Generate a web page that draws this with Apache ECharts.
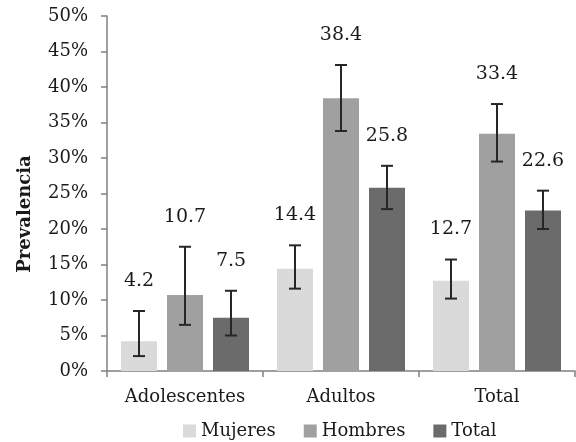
<!DOCTYPE html>
<html><head><meta charset="utf-8">
<script src="https://cdn.jsdelivr.net/npm/echarts@6/dist/echarts.min.js"></script>
<style>html,body{margin:0;padding:0;background:#fff}#c{width:576px;height:442px}</style>
</head><body><div id="c"></div>
<script>
var categories = ['Adolescentes', 'Adultos', 'Total'];
var seriesNames = ['Mujeres', 'Hombres', 'Total'];
var mujeres = [4.2, 14.4, 12.7];
var hombres = [10.7, 38.4, 33.4];
var total = [7.5, 25.8, 22.6];
var mujeresLow = [2.1, 11.6, 10.2];
var mujeresHigh = [8.45, 17.7, 15.7];
var hombresLow = [6.5, 33.8, 29.5];
var hombresHigh = [17.5, 43.1, 37.6];
var totalLow = [5.0, 22.8, 20.0];
var totalHigh = [11.3, 28.9, 25.4];
var yTicks = [0, 5, 10, 15, 20, 25, 30, 35, 40, 45, 50];

var FONT = '"DejaVu Serif", serif';
var colors = ['#dadada', '#a0a0a0', '#6b6b6b'];
var values = [mujeres, hombres, total];
var lows = [mujeresLow, hombresLow, totalLow];
var highs = [mujeresHigh, hombresHigh, totalHigh];
var BW = 36, GAP = 10;

var series = [];
seriesNames.forEach(function (n, i) {
  series.push({
    name: n, type: 'bar', data: values[i], barWidth: BW, barGap: (GAP / BW * 100) + '%',
    itemStyle: { color: colors[i] }, z: 2
  });
});
seriesNames.forEach(function (n, i) {
  var data = categories.map(function (c, k) { return [k, lows[i][k], highs[i][k], values[i][k]]; });
  series.push({
    type: 'custom', name: n + '_err', z: 5, silent: true,
    data: data,
    renderItem: function (params, api) {
      var k = api.value(0);
      var lo = api.coord([k, api.value(1)]);
      var hi = api.coord([k, api.value(2)]);
      var x = lo[0] + (i - 1) * (BW + GAP);
      var cap = 6;
      var st = { stroke: '#262626', lineWidth: 2 };
      return { type: 'group', children: [
        { type: 'line', shape: { x1: x, y1: lo[1], x2: x, y2: hi[1] }, style: st },
        { type: 'line', shape: { x1: x - cap, y1: lo[1], x2: x + cap, y2: lo[1] }, style: st },
        { type: 'line', shape: { x1: x - cap, y1: hi[1], x2: x + cap, y2: hi[1] }, style: st },
        { type: 'text', style: { text: api.value(3).toFixed(1), x: x, y: hi[1] - 30,
          font: '19px ' + FONT, fill: '#1a1a1a', align: 'center', verticalAlign: 'middle' } }
      ]};
    }
  });
});

var chart = echarts.init(document.getElementById('c'));
chart.setOption({
  animation: false,
  grid: { left: 107, right: 1, top: 16, bottom: 71 },
  legend: {
    data: seriesNames, bottom: 2, left: 183, padding: 0, icon: 'rect', itemWidth: 13, itemHeight: 13,
    itemGap: 28, textStyle: { fontFamily: FONT, fontSize: 18, color: '#1a1a1a' }
  },
  xAxis: {
    type: 'category', data: categories,
    axisLine: { lineStyle: { color: '#808080', width: 1.5 } },
    axisTick: { show: true, length: 6, interval: 0, lineStyle: { color: '#808080', width: 1.5 } },
    axisLabel: { interval: 0, fontFamily: FONT, fontSize: 18, color: '#1a1a1a', margin: 17 }
  },
  yAxis: {
    type: 'value', min: 0, max: 50, interval: 5,
    axisLine: { show: true, lineStyle: { color: '#808080', width: 1.5 } },
    axisTick: { show: true, length: 6, lineStyle: { color: '#808080', width: 1.5 } },
    splitLine: { show: false },
    axisLabel: { fontFamily: FONT, fontSize: 18, color: '#1a1a1a', margin: 19,
      formatter: function (v) { return yTicks.indexOf(v) >= 0 ? v + '%' : ''; } }
  },
  graphic: [{
    type: 'text', x: 25, y: 214, rotation: Math.PI / 2,
    style: { text: 'Prevalencia', font: 'bold 18px ' + FONT, fill: '#1a1a1a', align: 'center', verticalAlign: 'middle' }
  }],
  series: series
});
</script></body></html>
